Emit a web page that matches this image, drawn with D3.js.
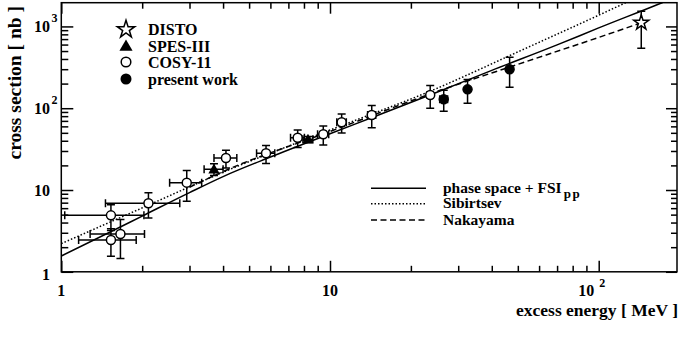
<!DOCTYPE html>
<html>
<head>
<meta charset="utf-8">
<script src="https://cdn.jsdelivr.net/npm/d3@7"></script>
<style>
  body { margin: 0; background: #fff; }
  text { font-family: "Liberation Serif", "Times New Roman", serif; font-weight: bold; fill: #000; }
</style>
</head>
<body>
<svg id="chart" width="682" height="342"></svg>
<script>
// COSY-11 (open circles)
const cosyQ = [1.53, 1.53, 1.66, 2.11, 2.93, 4.1, 5.78, 7.58, 9.44, 11.05, 14.3, 23.6];
const cosyQErr = [0.5, 0.37, 0.38, 0.65, 0.4, 0.4, 0.45, 0.45, 0.45, 0.45, 0.5, 0.6];
const cosySigma = [4.9, 2.45, 2.9, 6.9, 12.3, 24.6, 28.1, 43.6, 48, 67.2, 82.6, 145];
const cosySigmaErr = [1.7, 0.9, 1.45, 2.35, 5, 6, 7, 10.5, 12.5, 17.5, 25, 45];

// SPES-III (filled triangles)
const spesQ = [3.7, 8.28];
const spesQErr = [0.3, 0.35];
const spesSigma = [18, 41.7];
const spesSigmaErr = [3, 3.5];

// present work (filled circles)
const presQ = [26.5, 32.5, 46.6];
const presQErr = [0.9, 0, 0];
const presSigma = [128.5, 170, 300];
const presSigmaErr = [37, 55, 120];

// DISTO (open star)
const distoQ = [144];
const distoSigma = [1110];
const distoErrLo = [570];
const distoErrHi = [420];

// curves
const phaseQ = [1, 1.5, 2, 3, 4, 6, 10, 15, 25, 40, 70, 100, 172, 195];
const phaseSigma = [1.56, 3.0, 4.8, 9.3, 14.6, 25.3, 48.7, 81.4, 156.5, 290, 594, 959, 1950, 2314];
const sibQ = [1, 2, 4, 10, 25, 50, 100, 127, 140];
const sibSigma = [2.21, 6.04, 16.5, 54.1, 175, 488, 1371, 1971, 2280];
const nakQ = [3, 4, 10, 25, 50, 100, 142];
const nakSigma = [10.8, 16.8, 51.9, 160, 344, 734, 1090];

// ticks
const xMajor = [1, 10, 100];
const xMinor = [2, 3, 4, 5, 6, 7, 8, 9, 20, 30, 40, 50, 60, 70, 80, 90];
const yMajor = [1, 10, 100, 1000];
const yMinor = [2, 3, 4, 5, 6, 7, 8, 9, 20, 30, 40, 50, 60, 70, 80, 90, 200, 300, 400, 500, 600, 700, 800, 900];
const xTickLabels = [["1", ""], ["10", ""], ["10", "2"]];
const yTickLabels = [["1", ""], ["10", ""], ["10", "2"], ["10", "3"]];

const pLeft = 61.3, pRight = 677, pTop = 2.7, pBottom = 271.8;

const svg = d3.select("#chart");

const x = d3.scaleLog().domain([1, 195.6]).range([pLeft, pRight]);
const y = d3.scaleLog().domain([1, 1950]).range([pBottom, pTop]);

svg.append("clipPath").attr("id", "plot-clip")
  .append("rect")
  .attr("x", pLeft).attr("y", pTop)
  .attr("width", pRight - pLeft).attr("height", pBottom - pTop);

// ticks on all four sides
function addTicks(axis, tx, ty) {
  const g = svg.append("g")
    .attr("transform", `translate(${tx}, ${ty})`)
    .call(axis);
  g.select(".domain").remove();
  g.selectAll(".tick line").attr("stroke", "#000").attr("stroke-width", 1.5);
  g.selectAll(".tick text").remove();
}
addTicks(d3.axisBottom(x).tickValues(xMinor).tickSize(-6), 0, pBottom);
addTicks(d3.axisBottom(x).tickValues(xMajor).tickSize(-11), 0, pBottom);
addTicks(d3.axisTop(x).tickValues(xMinor).tickSize(-6), 0, pTop);
addTicks(d3.axisTop(x).tickValues(xMajor).tickSize(-11), 0, pTop);
addTicks(d3.axisLeft(y).tickValues(yMinor).tickSize(-7), pLeft, 0);
addTicks(d3.axisLeft(y).tickValues(yMajor).tickSize(-12), pLeft, 0);
addTicks(d3.axisRight(y).tickValues(yMinor).tickSize(-6), pRight, 0);
addTicks(d3.axisRight(y).tickValues(yMajor).tickSize(-11), pRight, 0);

// frame
svg.append("rect")
  .attr("x", pLeft).attr("y", pTop)
  .attr("width", pRight - pLeft).attr("height", pBottom - pTop)
  .attr("fill", "none").attr("stroke", "#000").attr("stroke-width", 1.5);

// tick labels
xMajor.forEach((v, i) => {
  const t = svg.append("text")
    .attr("x", x(v) - (xTickLabels[i][1] ? 7 : 0))
    .attr("y", 296)
    .attr("text-anchor", "middle")
    .style("font-size", "16px")
    .text(xTickLabels[i][0]);
  if (xTickLabels[i][1]) {
    t.append("tspan").attr("dx", 5).attr("dy", -9).style("font-size", "12px").text(xTickLabels[i][1]);
  }
});
yMajor.forEach((v, i) => {
  svg.append("text")
    .attr("x", 50)
    .attr("y", y(v) + (i === 0 ? 8 : 6))
    .attr("text-anchor", "end")
    .style("font-size", "16px")
    .text(yTickLabels[i][0]);
  if (yTickLabels[i][1]) {
    svg.append("text")
      .attr("x", 51.5)
      .attr("y", y(v) - 4)
      .style("font-size", "12px")
      .text(yTickLabels[i][1]);
  }
});

// axis titles
svg.append("text")
  .attr("x", 678).attr("y", 316)
  .attr("text-anchor", "end")
  .style("font-size", "17.5px")
  .text("excess energy [ MeV ]");
svg.append("text")
  .attr("transform", "translate(21, 6) rotate(-90)")
  .attr("text-anchor", "end")
  .style("font-size", "19.5px")
  .text("cross section [ nb ]");

// curves
const plot = svg.append("g").attr("clip-path", "url(#plot-clip)");
const line = d3.line().x(d => x(d[0])).y(d => y(d[1])).curve(d3.curveMonotoneX);
const curves = [
  { q: phaseQ, s: phaseSigma, dash: null },
  { q: sibQ, s: sibSigma, dash: "1.5,2" },
  { q: nakQ, s: nakSigma, dash: "6,3.5" }
];
curves.forEach(c => {
  plot.append("path")
    .datum(c.q.map((q, i) => [q, c.s[i]]))
    .attr("d", line)
    .attr("fill", "none")
    .attr("stroke", "#000")
    .attr("stroke-width", 1.5)
    .attr("stroke-dasharray", c.dash);
});

// error bars
function errorBars(q, qErr, s, sLo, sHi) {
  const g = plot.append("g").attr("stroke", "#000").attr("stroke-width", 1.5);
  q.forEach((qv, i) => {
    const cx = x(qv), cy = y(s[i]);
    const y1 = y(s[i] + sHi[i]), y2 = y(s[i] - sLo[i]);
    g.append("line").attr("x1", cx).attr("x2", cx).attr("y1", y1).attr("y2", y2);
    g.append("line").attr("x1", cx - 4).attr("x2", cx + 4).attr("y1", y1).attr("y2", y1);
    g.append("line").attr("x1", cx - 4).attr("x2", cx + 4).attr("y1", y2).attr("y2", y2);
    if (qErr[i] > 0) {
      const x1 = x(qv - qErr[i]), x2 = x(qv + qErr[i]);
      g.append("line").attr("x1", x1).attr("x2", x2).attr("y1", cy).attr("y2", cy);
      g.append("line").attr("x1", x1).attr("x2", x1).attr("y1", cy - 4).attr("y2", cy + 4);
      g.append("line").attr("x1", x2).attr("x2", x2).attr("y1", cy - 4).attr("y2", cy + 4);
    }
  });
}
errorBars(cosyQ, cosyQErr, cosySigma, cosySigmaErr, cosySigmaErr);
errorBars(spesQ, spesQErr, spesSigma, spesSigmaErr, spesSigmaErr);
errorBars(presQ, presQErr, presSigma, presSigmaErr, presSigmaErr);
errorBars(distoQ, [0], distoSigma, distoErrLo, distoErrHi);

// markers
const star = d3.symbol().type(d3.symbolStar).size(70);
const tri = d3.symbol().type(d3.symbolTriangle).size(55);

function circles(g, q, s, r, fill) {
  g.selectAll(null).data(q).enter().append("circle")
    .attr("cx", d => x(d)).attr("cy", (d, i) => y(s[i]))
    .attr("r", r).attr("fill", fill).attr("stroke", "#000").attr("stroke-width", 1.5);
}
circles(plot, cosyQ, cosySigma, 4.5, "#fff");
circles(plot, presQ, presSigma, 4.5, "#000");
plot.selectAll(null).data(spesQ).enter().append("path")
  .attr("d", tri)
  .attr("transform", (d, i) => `translate(${x(d)}, ${y(spesSigma[i]) + 1})`)
  .attr("fill", "#000");
plot.selectAll(null).data(distoQ).enter().append("path")
  .attr("d", star)
  .attr("transform", (d, i) => `translate(${x(d)}, ${y(distoSigma[i])})`)
  .attr("fill", "#fff").attr("stroke", "#000").attr("stroke-width", 1.5);

// legend: data sets
const legendNames = ["DISTO", "SPES-III", "COSY-11", "present work"];
const legendY = [29.5, 46, 62, 79];
const lg = svg.append("g");
lg.append("path").attr("d", d3.symbol().type(d3.symbolStar).size(95))
  .attr("transform", `translate(126, ${legendY[0]})`)
  .attr("fill", "#fff").attr("stroke", "#000").attr("stroke-width", 1.5);
lg.append("path").attr("d", d3.symbol().type(d3.symbolTriangle).size(75))
  .attr("transform", `translate(126, ${legendY[1] + 1})`)
  .attr("fill", "#000");
lg.append("circle").attr("cx", 126).attr("cy", legendY[2]).attr("r", 4.8)
  .attr("fill", "#fff").attr("stroke", "#000").attr("stroke-width", 1.5);
lg.append("circle").attr("cx", 126).attr("cy", legendY[3]).attr("r", 5.5)
  .attr("fill", "#000");
legendNames.forEach((n, i) => {
  lg.append("text").attr("x", 148).attr("y", legendY[i] + 5.5)
    .style("font-size", "16px").text(n);
});

// legend: curves
const curveNames = ["phase space + FSI", "Sibirtsev", "Nakayama"];
const curveLegendY = [188.3, 203.7, 220];
const lg2 = svg.append("g");
curves.forEach((c, i) => {
  lg2.append("line")
    .attr("x1", 371).attr("x2", 426)
    .attr("y1", curveLegendY[i]).attr("y2", curveLegendY[i])
    .attr("stroke", "#000").attr("stroke-width", 1.5)
    .attr("stroke-dasharray", c.dash);
  const t = lg2.append("text").attr("x", 443).attr("y", curveLegendY[i] + 4.5)
    .style("font-size", "15.5px").text(curveNames[i]);
  if (i === 0) {
    t.append("tspan").attr("dx", 2).attr("dy", 5)
      .style("font-size", "13px").style("letter-spacing", "1.5px").text("pp");
  }
});
</script>
</body>
</html>
